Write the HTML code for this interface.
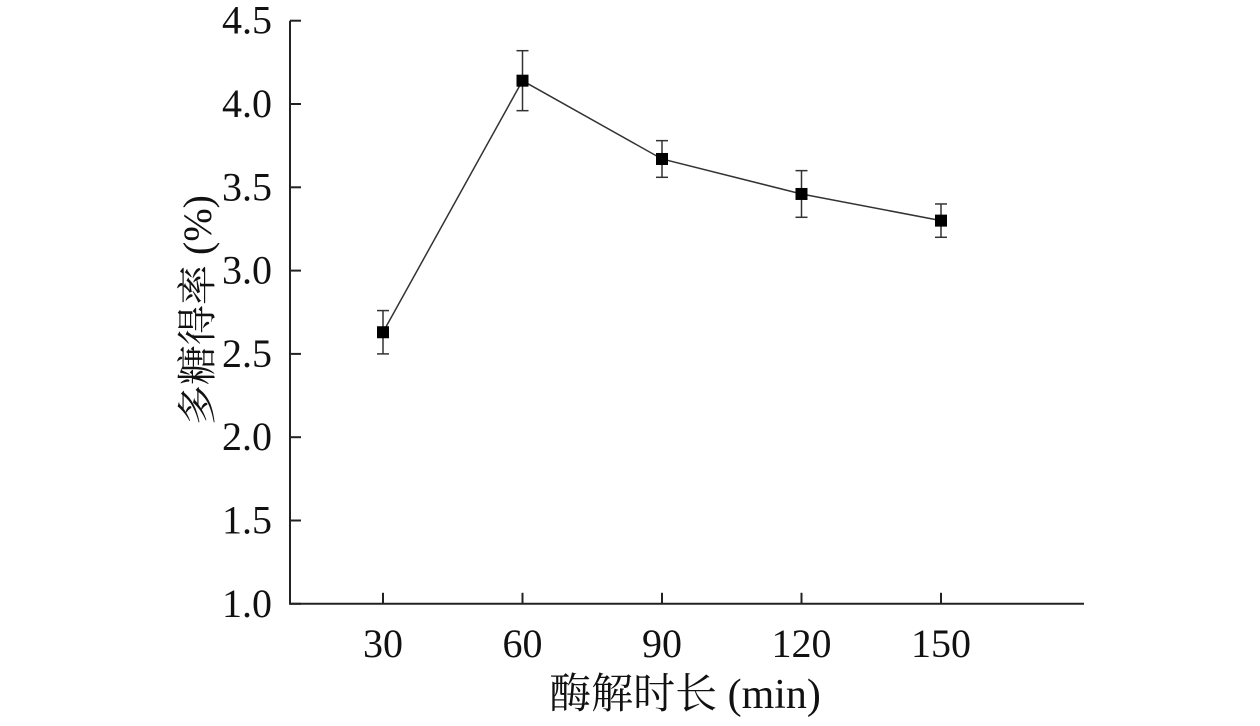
<!DOCTYPE html>
<html><head><meta charset="utf-8"><style>
html,body{margin:0;padding:0;background:#fff;}
svg{display:block;}
text{font-family:"Liberation Serif","Noto Serif CJK SC","Noto Sans CJK SC",serif;fill:#111;}
</style></head><body>
<svg id="chart" width="1260" height="726" viewBox="0 0 1260 726">
<g id="axes"></g>
<g id="series"></g>
<text x="685" y="708" font-size="42" text-anchor="middle">酶解时长 (min)</text>
<text transform="translate(211,310) rotate(-90)" font-size="40" text-anchor="middle">多糖得率 (%)</text>
</svg>
<script>
const categories = [30, 60, 90, 120, 150];
const values = [2.63, 4.14, 3.67, 3.46, 3.30];
const errors = [0.13, 0.18, 0.11, 0.14, 0.10];
const yTicks = [1.0, 1.5, 2.0, 2.5, 3.0, 3.5, 4.0, 4.5];
const yTickLabels = ["1.0","1.5","2.0","2.5","3.0","3.5","4.0","4.5"];

const NS = "http://www.w3.org/2000/svg";
function xs(v){ return 383 + (v-30)/30*139.5; }
function ys(v){ return 20.7 + (4.5-v)*166.6; }
function mk(tag, attrs, parent){
  const e = document.createElementNS(NS, tag);
  for (const k in attrs) e.setAttribute(k, attrs[k]);
  parent.appendChild(e); return e;
}
const axes = document.getElementById('axes');
const series = document.getElementById('series');
const yl = mk('line',{x1:290,y1:ys(4.5),x2:290,y2:ys(1.0),stroke:'#222','stroke-width':2},axes);


const xl = mk('line',{x1:289,y1:ys(1.0),x2:1084,y2:ys(1.0),stroke:'#222','stroke-width':2},axes);


yTicks.forEach((t,i)=>{
  const tk = mk('line',{x1:290,y1:ys(t),x2:301,y2:ys(t),stroke:'#222','stroke-width':2},axes);
  
  
  const lb = mk('text',{x:272,y:ys(t)+13,'font-size':40,'text-anchor':'end'},axes);
  lb.textContent = yTickLabels[i];
  
  
});
categories.forEach(c=>{
  const tk = mk('line',{x1:xs(c),y1:ys(1.0),x2:xs(c),y2:ys(1.0)-11,stroke:'#222','stroke-width':2},axes);
  
  
  const lb = mk('text',{x:xs(c),y:ys(1.0)+53,'font-size':40,'text-anchor':'middle'},axes);
  lb.textContent = String(c);
  
  
});
const pts = categories.map((c,i)=>xs(c)+','+ys(values[i])).join(' ');
const line = mk('polyline',{points:pts,fill:'none',stroke:'#333','stroke-width':1.5},series);


categories.forEach((c,i)=>{
  const x = xs(c), hi = ys(values[i]+errors[i]), lo = ys(values[i]-errors[i]);
  const g = mk('g',{},series);
  
  
  mk('line',{x1:x,y1:hi,x2:x,y2:lo,stroke:'#333','stroke-width':1.5},g);
  mk('line',{x1:x-6,y1:hi,x2:x+6,y2:hi,stroke:'#333','stroke-width':1.5},g);
  mk('line',{x1:x-6,y1:lo,x2:x+6,y2:lo,stroke:'#333','stroke-width':1.5},g);
  const m = mk('rect',{x:x-6,y:ys(values[i])-6,width:12,height:12,fill:'#000'},series);
  
  
});
</script>
</body></html>
